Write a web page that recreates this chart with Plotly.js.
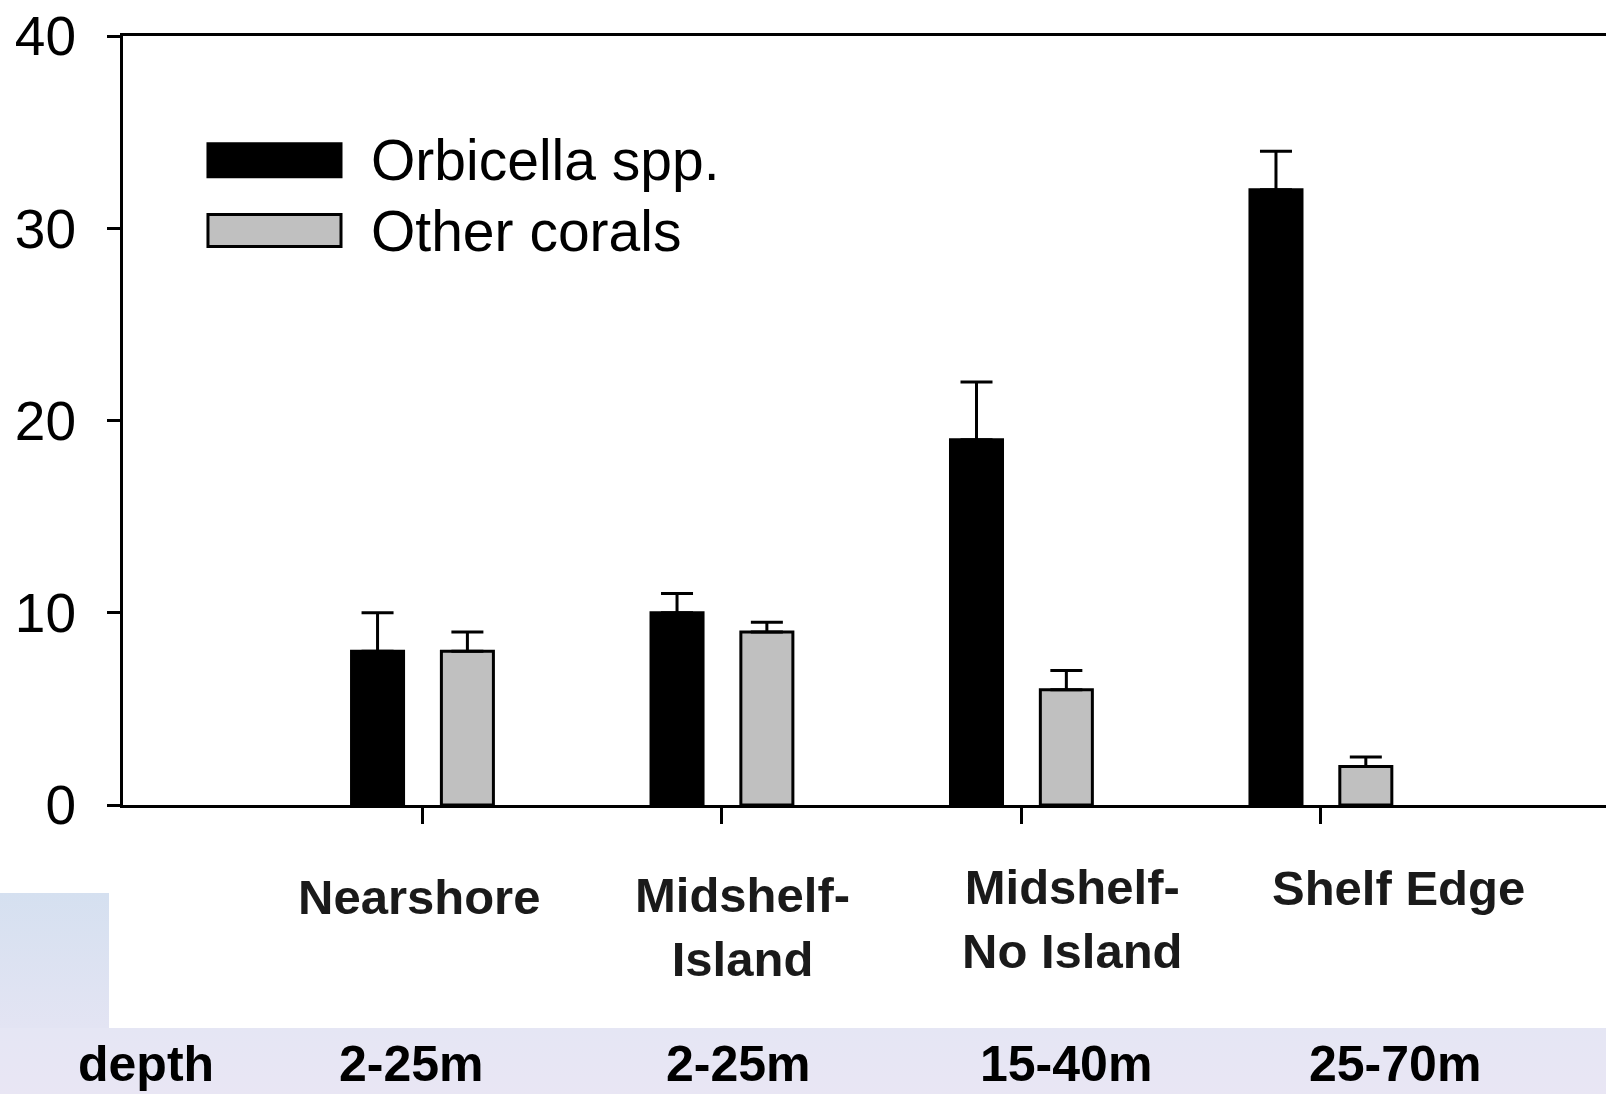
<!DOCTYPE html>
<html>
<head>
<meta charset="utf-8">
<script src="https://cdn.plot.ly/plotly-3.0.1.min.js"></script>
<style>
  html, body { margin: 0; padding: 0; background: #ffffff; width: 1606px; height: 1094px; overflow: hidden; }
  #bgLeft { position: absolute; left: 0; top: 893px; width: 109px; height: 135px;
            background: linear-gradient(to bottom, #d5e0f0, #e3e4f3); }
  #bgBottom { position: absolute; left: 0; top: 1028px; width: 1606px; height: 66px;
              background: linear-gradient(to bottom, #e5e6f4, #e9e6f4); }
  #chart { position: absolute; left: 0; top: 0; width: 1606px; height: 1094px; }
</style>
</head>
<body>
<div id="bgLeft"></div>
<div id="bgBottom"></div>
<div id="chart"></div>
<script>
// ---- data ----
const categories = ['Nearshore', 'Midshelf-<br>Island', 'Midshelf-<br>No Island', 'Shelf Edge'];
const depths = ['2-25m', '2-25m', '15-40m', '25-70m'];
const orbicella = [8, 10, 19, 32];
const orbicellaErr = [2, 1, 3, 2];
const otherCorals = [8, 9, 6, 2];
const otherCoralsErr = [1, 0.5, 1, 0.5];
const seriesNames = ['Orbicella spp.', 'Other corals'];
const yTickVals = [0, 10, 20, 30, 40];

// ---- presentation ----
const FONT = '"Liberation Sans", Arial, Helvetica, sans-serif';
const idx = categories.map((_, i) => i);
const catShift = [-3, 21, 51, 78];
const catY = [-0.1193, -0.1582, -0.1479, -0.1077];
const depthShift = [-11, 17, 45, 74];

const errStyle = { type: 'data', symmetric: false, color: '#000', thickness: 3, width: 16 };

const traces = [
  {
    type: 'bar', name: seriesNames[0], x: idx, y: orbicella,
    marker: { color: '#000000', line: { color: '#000000', width: 3 } },
    error_y: Object.assign({ array: orbicellaErr, arrayminus: orbicella.map(() => 0) }, errStyle),
    showlegend: false, hoverinfo: 'y'
  },
  {
    type: 'bar', name: seriesNames[1], x: idx, y: otherCorals,
    marker: { color: '#c0c0c0', line: { color: '#000000', width: 3 } },
    error_y: Object.assign({ array: otherCoralsErr, arrayminus: otherCorals.map(() => 0) }, errStyle),
    showlegend: false, hoverinfo: 'y'
  }
];

const annotations = [];
categories.forEach((c, i) => {
  annotations.push({
    x: i, xref: 'x', xshift: catShift[i], y: catY[i], yref: 'paper',
    text: c, showarrow: false, xanchor: 'center', yanchor: 'middle', align: 'center',
    font: { family: FONT, size: 49, color: '#1a1a1a', weight: 'bold' }
  });
  annotations.push({
    x: i, xref: 'x', xshift: depthShift[i], y: -0.3372, yref: 'paper',
    text: depths[i], showarrow: false, xanchor: 'center', yanchor: 'middle',
    font: { family: FONT, size: 50, color: '#000', weight: 'bold' }
  });
});
annotations.push({
  x: 0.0155, xref: 'paper', y: -0.3372, yref: 'paper', text: 'depth',
  showarrow: false, xanchor: 'center', yanchor: 'middle',
  font: { family: FONT, size: 50, color: '#000', weight: 'bold' }
});

// legend (manual, large swatches)
const legendColors = ['#000000', '#c0c0c0'];
const legendY = [[0.8171, 0.8599], [0.7263, 0.7678]];
const shapes = [];
seriesNames.forEach((n, i) => {
  shapes.push({
    type: 'rect', xref: 'paper', yref: 'paper', x0: 0.0573, x1: 0.1470,
    y0: legendY[i][0], y1: legendY[i][1],
    fillcolor: legendColors[i], line: { color: '#000', width: 3 }
  });
  annotations.push({
    x: 0.1659, xref: 'paper', y: (legendY[i][0] + legendY[i][1]) / 2, yref: 'paper',
    text: n, showarrow: false, xanchor: 'left', yanchor: 'middle',
    font: { family: FONT, size: 57, color: '#000' }
  });
});

const layout = {
  width: 1606, height: 1094,
  margin: { l: 123, r: 0, t: 36, b: 289, pad: 0 },
  paper_bgcolor: 'rgba(0,0,0,0)',
  plot_bgcolor: '#ffffff',
  barmode: 'group', bargap: 0.4, bargroupgap: 0.421,
  showlegend: false,
  xaxis: {
    type: 'linear', range: [-1, 3.952], tickvals: idx, showticklabels: false,
    ticks: 'outside', ticklen: 16, tickwidth: 3, tickcolor: '#000',
    showline: true, linecolor: '#000', linewidth: 3, mirror: true,
    showgrid: false, zeroline: false, fixedrange: true
  },
  yaxis: {
    range: [0, 40], tickvals: yTickVals, ticktext: yTickVals.map(String),
    ticks: 'outside', ticklen: 13, tickwidth: 3, tickcolor: '#000',
    ticklabelstandoff: 20,
    tickfont: { family: FONT, size: 55, color: '#000' },
    showline: true, linecolor: '#000', linewidth: 3, mirror: false,
    showgrid: false, zeroline: false, fixedrange: true
  },
  annotations: annotations,
  shapes: shapes
};

Plotly.newPlot('chart', traces, layout, { displayModeBar: false, staticPlot: true });
</script>
</body>
</html>
